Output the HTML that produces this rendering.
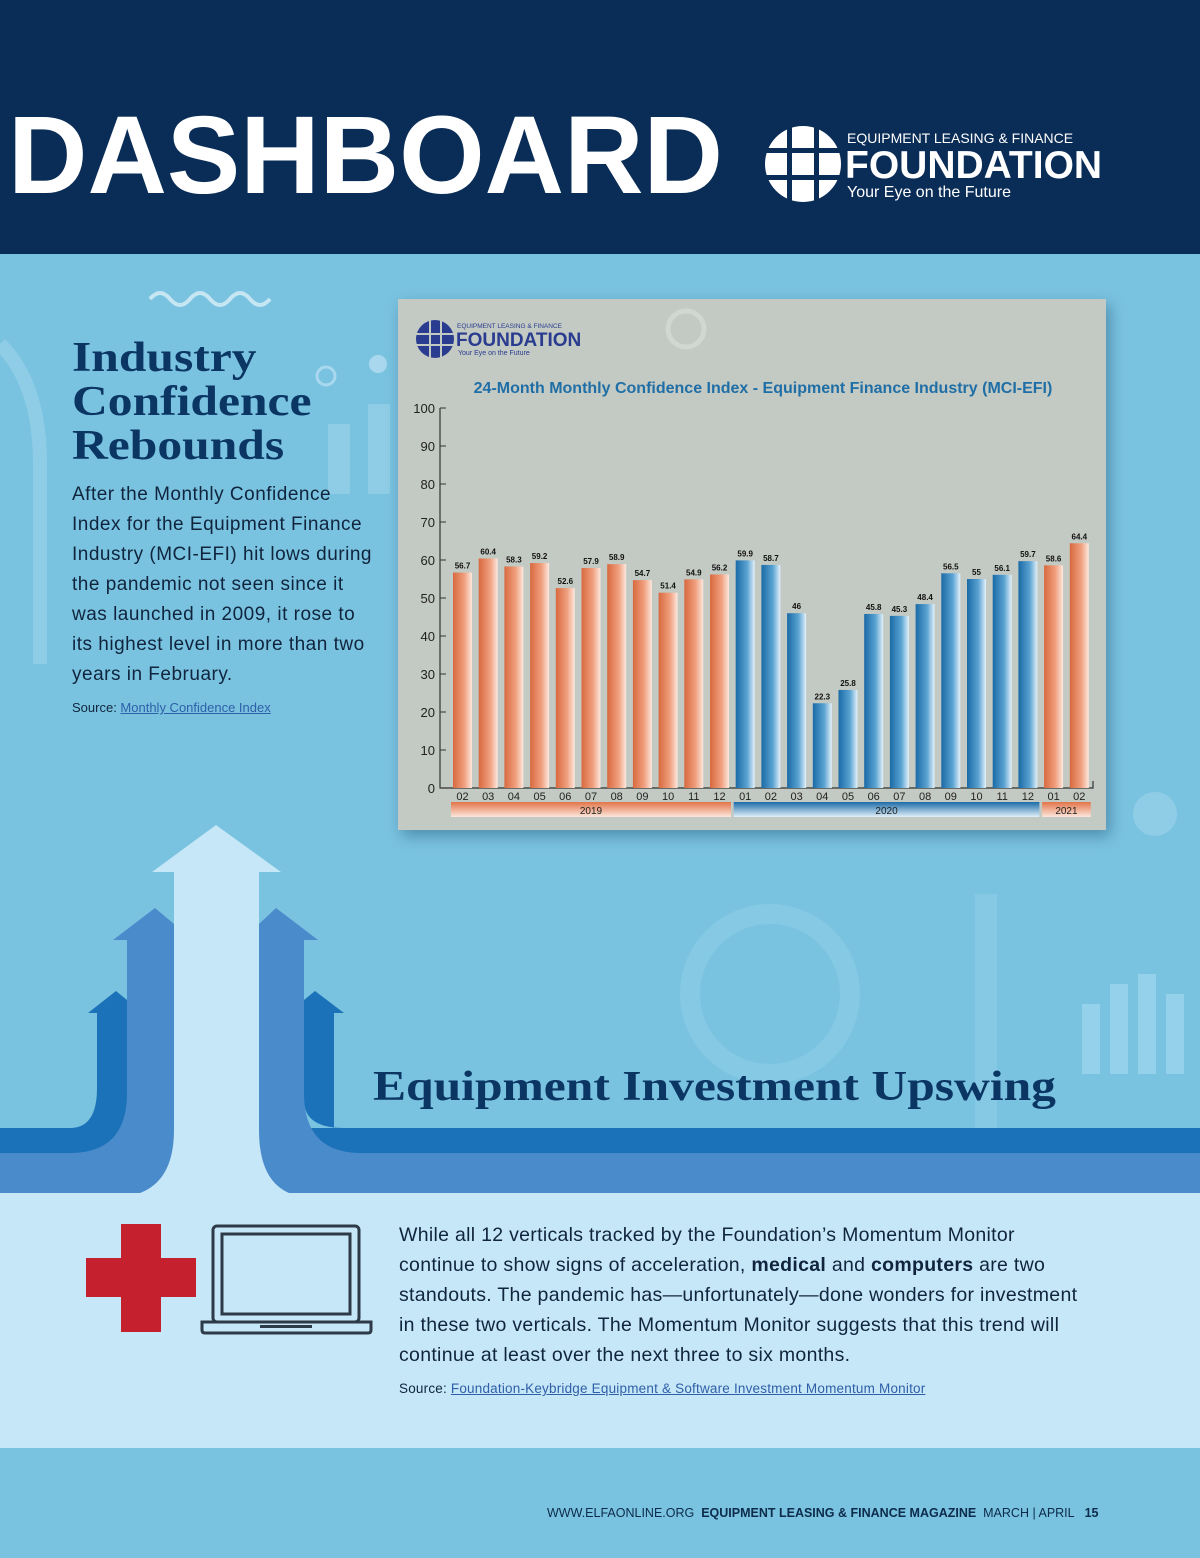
<!DOCTYPE html>
<html><head><meta charset="utf-8"><style>
*{margin:0;padding:0;box-sizing:border-box}
body{width:1200px;height:1558px;position:relative;overflow:hidden;background:#79c3e0;font-family:"Liberation Sans",sans-serif}
.abs{position:absolute}
.nw{white-space:nowrap}
</style></head><body>
<div class="abs" style="left:0;top:0;width:1200px;height:254px;background:#0a2d57"></div>
<div class="abs" style="left:8px;top:96px;font-size:110px;font-weight:bold;color:#fff;letter-spacing:0px;line-height:120px">DASHBOARD</div>
<svg class="abs" style="left:760px;top:120px" width="360" height="90">
<circle cx="43" cy="44" r="38" fill="#fff"/>
<g fill="#0a2d57"><rect x="5" y="28" width="76" height="5"/><rect x="5" y="55" width="76" height="5"/><rect x="27" y="5" width="5" height="78"/><rect x="54" y="5" width="5" height="78"/></g>
<text x="87" y="23" fill="#fff" font-size="14" font-family="Liberation Sans">EQUIPMENT LEASING &amp; FINANCE</text>
<text x="85" y="58" fill="#fff" font-size="39" font-weight="bold" font-family="Liberation Sans">FOUNDATION</text>
<text x="87" y="77" fill="#fff" font-size="16" font-family="Liberation Sans">Your Eye on the Future</text>
</svg>

<svg class="abs" style="left:0;top:254px" width="1200" height="940">
<path d="M150 45 q10 -12 20 0 t20 0 t20 0 t20 0 t20 0 t20 0" stroke="#c6e6f4" stroke-width="4" fill="none"/>
<circle cx="326" cy="122" r="9" fill="none" stroke="#a9d8ee" stroke-width="3"/>
<circle cx="378" cy="110" r="9" fill="#a9d8ee"/>
<rect x="328" y="170" width="22" height="70" fill="#8fcde7"/>
<rect x="368" y="150" width="22" height="90" fill="#8fcde7"/>
<path d="M0 90 q40 40 40 120 v200" stroke="#8fcde7" stroke-width="14" fill="none"/>
<circle cx="1155" cy="560" r="22" fill="#8fcde7"/>
<rect x="1082" y="750" width="18" height="70" fill="#95d1ea"/><rect x="1110" y="730" width="18" height="90" fill="#95d1ea"/><rect x="1138" y="720" width="18" height="100" fill="#95d1ea"/><rect x="1166" y="740" width="18" height="80" fill="#95d1ea"/>
<circle cx="770" cy="740" r="80" fill="none" stroke="#86c9e5" stroke-width="20"/>
<rect x="975" y="640" width="22" height="280" fill="#8fcde7" opacity=".6"/>
</svg>

<div class="abs nw" style="left:72px;top:336px;font-family:'Liberation Serif',serif;font-weight:bold;font-size:42px;transform:scaleX(1.18);transform-origin:0 0;line-height:44px;color:#0b3563">Industry<br>Confidence<br>Rebounds</div>
<div class="abs nw" style="left:72px;top:480px;font-size:19px;letter-spacing:0.5px;line-height:30px;color:#10243d">After the Monthly Confidence<br>Index for the Equipment Finance<br>Industry (MCI-EFI) hit lows during<br>the pandemic not seen since it<br>was launched in 2009, it rose to<br>its highest level in more than two<br>years in February.</div>
<div class="abs" style="left:72px;top:700px;font-size:13px;color:#10243d">Source: <a style="color:#2f5fa8;text-decoration:underline">Monthly Confidence Index</a></div>

<div class="abs" style="left:398px;top:299px;width:708px;height:531px;background:#c3c9c3;box-shadow:4px 6px 14px rgba(0,40,80,.35)">
<svg id="chart" width="708" height="531">
<defs>
<linearGradient id="go" x1="0" x2="1"><stop offset="0" stop-color="#d8693f"/><stop offset=".6" stop-color="#f0a07f"/><stop offset="1" stop-color="#fde8de"/></linearGradient>
<linearGradient id="gb" x1="0" x2="1"><stop offset="0" stop-color="#1a6aa6"/><stop offset=".6" stop-color="#5aa3d2"/><stop offset="1" stop-color="#e3f1fa"/></linearGradient>
<linearGradient id="yo" x1="0" y1="0" x2="0" y2="1"><stop offset="0" stop-color="#e1754a"/><stop offset="1" stop-color="#fde7dc"/></linearGradient>
<linearGradient id="yb" x1="0" y1="0" x2="0" y2="1"><stop offset="0" stop-color="#1c6ba8"/><stop offset="1" stop-color="#e1f0fa"/></linearGradient>
</defs>
<circle cx="37" cy="40" r="19" fill="#2a3c8f"/>
<g fill="#c3c9c3"><rect x="18" y="34" width="38" height="2"/><rect x="18" y="45" width="38" height="2"/><rect x="31" y="21" width="2" height="38"/><rect x="42" y="21" width="2" height="38"/></g>
<text x="59" y="29" font-size="6.5" fill="#2a3c8f">EQUIPMENT LEASING &amp; FINANCE</text>
<text x="58" y="47" font-size="19" font-weight="bold" fill="#2a3c8f">FOUNDATION</text>
<text x="60" y="56" font-size="7" fill="#2a3c8f">Your Eye on the Future</text>
<circle cx="288" cy="30" r="18" fill="none" stroke="#d3d7d2" stroke-width="5"/>
<text x="365" y="94" text-anchor="middle" font-size="16" font-weight="bold" fill="#1f6fa6">24-Month Monthly Confidence Index - Equipment Finance Industry (MCI-EFI)</text>
</svg>
</div>

<svg class="abs" style="left:0;top:800px" width="1200" height="400">
<path d="M0 328 H70 q27 0 27 -40 V213 H88 L116 191 L127 200 V328 H0 Z" fill="#1c72b8"/>
<path d="M0 328 H1200 V353 H0 Z" fill="#1c72b8"/>
<path d="M334 213 H344 L315 191 L304 200 V300 q0 28 40 28 H334 Z" fill="#1c72b8"/>
<path d="M0 353 H70 q57 0 57 -60 V140 H113 L155 108 L174 124 V393 H0 Z" fill="#4a8bcb"/>
<path d="M259 124 L276 108 L318 140 H304 V293 q0 60 57 60 H1200 V393 H259 Z" fill="#4a8bcb"/>
<path d="M152 72 L216 25 L281 72 H259 V330 q0 50 30 63 H140 q34 -13 34 -63 V72 Z" fill="#c6e7f7"/>
</svg>
<div class="abs nw" style="left:373px;top:1063px;font-family:'Liberation Serif',serif;font-weight:bold;font-size:42px;transform:scaleX(1.18);transform-origin:0 0;color:#0b3563">Equipment Investment Upswing</div>

<div class="abs" style="left:0;top:1193px;width:1200px;height:255px;background:#c6e7f7"></div>
<svg class="abs" style="left:86px;top:1224px" width="112" height="108"><path d="M35 0 H75 V34 H110 V73 H75 V108 H35 V73 H0 V34 H35 Z" fill="#c4202e"/></svg>
<svg class="abs" style="left:200px;top:1224px" width="175" height="112">
<rect x="13" y="2" width="146" height="96" rx="4" fill="none" stroke="#2d3a48" stroke-width="3"/>
<rect x="22" y="10" width="128" height="80" fill="none" stroke="#2d3a48" stroke-width="3"/>
<path d="M2 98 H171 V106 q0 3 -3 3 H5 q-3 0 -3 -3 Z" fill="none" stroke="#2d3a48" stroke-width="3"/>
<rect x="60" y="101" width="52" height="3" fill="#2d3a48"/>
</svg>
<div class="abs nw" style="left:399px;top:1220px;font-size:19.5px;letter-spacing:0.3px;line-height:30px;color:#10243d">While all 12 verticals tracked by the Foundation’s Momentum Monitor<br>continue to show signs of acceleration, <b>medical</b> and <b>computers</b> are two<br>standouts. The pandemic has—unfortunately—done wonders for investment<br>in these two verticals. The Momentum Monitor suggests that this trend will<br>continue at least over the next three to six months.</div>
<div class="abs nw" style="left:399px;top:1381px;font-size:13.5px;letter-spacing:0.2px;color:#10243d">Source: <a style="color:#2f5fa8;text-decoration:underline"> Foundation-Keybridge Equipment &amp; Software Investment Momentum Monitor</a></div>

<div class="abs nw" style="left:547px;top:1506px;font-size:12.5px;color:#0d2b4a">WWW.ELFAONLINE.ORG &nbsp;<b>EQUIPMENT LEASING &amp; FINANCE MAGAZINE</b> &nbsp;MARCH | APRIL &nbsp;&nbsp;<b>15</b></div>

<script>
const months = ["02","03","04","05","06","07","08","09","10","11","12","01","02","03","04","05","06","07","08","09","10","11","12","01","02"];
const years = ["2019","2019","2019","2019","2019","2019","2019","2019","2019","2019","2019","2020","2020","2020","2020","2020","2020","2020","2020","2020","2020","2020","2020","2021","2021"];
const values = [56.7,60.4,58.3,59.2,52.6,57.9,58.9,54.7,51.4,54.9,56.2,59.9,58.7,46,22.3,25.8,45.8,45.3,48.4,56.5,55,56.1,59.7,58.6,64.4];
const yTicks = [0,10,20,30,40,50,60,70,80,90,100];
const yearLabels = ["2019","2020","2021"];

const svg = document.getElementById('chart');
const NS = 'http://www.w3.org/2000/svg';
const x0 = 42, x1 = 695, yBase = 489, yTop = 109;
const yScale = v => yBase - (v/100)*(yBase - yTop);
const step = 25.7, firstX = 55, bw = 19;
const xScale = i => firstX + i*step;
function mk(tag, attrs){const e=document.createElementNS(NS,tag);for(const k in attrs)e.setAttribute(k,attrs[k]);svg.appendChild(e);return e;}

let ax = mk('path',{d:`M${x0} ${yTop} V${yBase} H${x1} V${yBase-7}`,stroke:'#333',fill:'none','stroke-width':1.2});


yTicks.forEach(t=>{
  const y=yScale(t);
  mk('line',{x1:x0,x2:x0+6,y1:y,y2:y,stroke:'#333'});
  const tx=mk('text',{x:x0-5,y:y+5,'text-anchor':'end','font-size':13,fill:'#222'});
  tx.textContent=t;
  
  
});
values.forEach((v,i)=>{
  const x=xScale(i), y=yScale(v);
  const b=mk('rect',{x:x,y:y,width:bw,height:yBase-y,fill:years[i]==='2020'?'url(#gb)':'url(#go)'});
  
  
  const l=mk('text',{x:x+bw/2,y:y-4,'text-anchor':'middle','font-size':8,'font-weight':'bold',fill:'#111'});
  l.textContent=v;
  
  
  const m=mk('text',{x:x+bw/2,y:yBase+12,'text-anchor':'middle','font-size':11,fill:'#222'});
  m.textContent=months[i];
  
  
});
yearLabels.forEach(yr=>{
  const idx=years.map((y,i)=>y===yr?i:-1).filter(i=>i>=0);
  const a=xScale(idx[0])-2, b=xScale(idx[idx.length-1])+bw+2;
  const r=mk('rect',{x:a,y:yBase+14,width:b-a,height:15,fill:yr==='2020'?'url(#yb)':'url(#yo)'});
  
  
  const t=mk('text',{x:(a+b)/2,y:yBase+26,'text-anchor':'middle','font-size':10,fill:'#222'});
  t.textContent=yr;
  
  
});
</script>
</body></html>
